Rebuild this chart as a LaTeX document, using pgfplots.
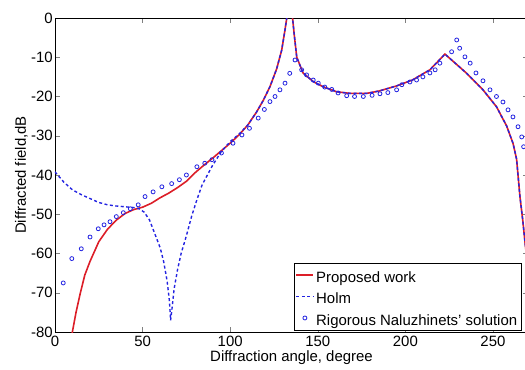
\documentclass[border=0pt]{standalone}
\usepackage{pgfplots}
\pgfplotsset{compat=1.18}
\usepackage{fontspec}
\setmainfont{Liberation Sans}
\definecolor{pred}{RGB}{220,30,40}
\definecolor{pblue}{RGB}{35,35,225}
\newcommand{\lstrut}{\rule[-7bp]{0pt}{23bp}}
\begin{document}
\begin{tikzpicture}
\begin{axis}[
  width=473bp, height=314bp, scale only axis,
  xmin=0, xmax=270, ymin=-80, ymax=0,
  xtick={0,50,100,150,200,250},
  ytick={-80,-70,-60,-50,-40,-30,-20,-10,0},
  tick align=inside,
  major tick length=5bp,
  font=\fontsize{15}{18}\selectfont,
  /pgf/number format/assume math mode=true,
  ticklabel style={font=\fontsize{15}{18}\selectfont},
  xticklabel style={inner sep=2bp, yshift=-2bp},
  yticklabel style={inner sep=2bp},
  xlabel={Diffraction angle, degree},
  ylabel={Diffracted field,dB},
  xlabel style={inner sep=2bp},
  ylabel style={yshift=-2bp},
  clip=true,
  legend cell align=left,
  legend style={at={(rel axis cs:0.985,0.005)}, anchor=south east,
    font=\fontsize{15}{17}\selectfont, draw=black, fill=white,
    inner sep=1.5bp, row sep=0pt},
  legend image post style={},
]
\addplot[pred, line width=1.6pt] coordinates {
(9.5,-81) (12,-75) (14.5,-70) (17,-65.5) (20,-62) (25,-57) (30,-53.8) (35,-51.5) (40,-49.8)
(45,-48.8) (50,-48.2) (55,-47.2) (60,-45.8) (65,-44.6) (70,-43.2) (75,-41.6) (80,-39.4)
(85,-37.5) (90,-35.7) (95,-33.8) (100,-31.9) (105,-29.8) (110,-27.3) (115,-24)
(119,-20.9) (122.7,-17.5) (126.5,-13) (129.4,-8.2) (131.3,-3) (132.3,0) (133.5,4) (134.5,4)
(135.6,0) (136.5,-4) (138,-10) (141.6,-14) (147.4,-16.2) (153,-17.5) (160.8,-18.8)
(168.4,-19.2) (178,-19.2) (185,-18.6) (195,-17.3) (204,-15.8) (214,-13.2) (222.6,-9.2)
(235,-14.1) (244.3,-18.3) (252,-22.6) (257.8,-27.5) (261.5,-32) (263.5,-36) (265.4,-45.5)
(267,-51.5) (268.5,-58) (270,-64)
};
\addlegendentry{\lstrut Proposed work}
\addplot[pblue, line width=1.4pt, dashed, dash pattern=on 3pt off 2.5pt] coordinates {
(0,-39.2) (5,-41.8) (10,-43.8) (15,-45) (20,-46) (25,-47) (30,-47.6) (35,-47.9) (40,-48.1)
(45,-48.3) (48,-48.6) (51,-49.5) (54,-51.5) (57,-55) (60,-58.5) (62,-62) (64,-67)
(65.3,-72) (66,-77) (66.8,-74) (68,-69) (70,-64) (72,-60) (75,-55.5) (78,-50.5)
(81,-46.3) (84,-42.5) (87,-40) (90,-37.5) (95,-34) (100,-31.5) (105,-29.6) (110,-27.3) (115,-24)
(119,-20.9) (122.7,-17.5) (126.5,-13) (129.4,-8.2) (131.3,-3) (132.3,0) (133.5,4) (134.5,4)
(135.6,0) (136.5,-4) (138,-10) (141.6,-14) (147.4,-16.2) (153,-17.5) (160.8,-18.8)
(168.4,-19.2) (178,-19.2) (185,-18.6) (195,-17.3) (204,-15.8) (214,-13.2) (222.6,-9.2)
(235,-14.1) (244.3,-18.3) (252,-22.6) (257.8,-27.5) (261.5,-32) (263.5,-36) (265.4,-45.5)
(267,-51.5) (268.5,-58) (270,-64)
};
\addlegendentry{\lstrut Holm}
\addplot[pblue, only marks, mark=o, mark size=2pt, line width=0.8pt] coordinates {
(4.7,-67.5) (9.6,-61.3) (15,-58.8) (20,-55.8) (24.7,-53.7) (28,-52.7) (31.4,-51.9)
(35,-50.6) (39,-49.6) (43,-48.6) (47.5,-47.6) (51.4,-45.5) (56,-44.3) (61,-43)
(66.6,-42.2) (71,-41.2) (75,-40) (81,-37.9) (85.5,-37) (89.6,-36.1) (95,-34.4)
(101.6,-31.9) (106.7,-29.8) (111,-28.1) (116,-25.5) (119.5,-23.3) (122.7,-21.3)
(125.6,-20) (128.4,-18.3) (131.3,-16.6) (134,-14.1) (137,-10.7) (140.8,-13.2)
(143.6,-14.5) (147.4,-15.8) (150.3,-16.6) (154,-17.6) (158,-18.2) (161.6,-19.1)
(166.5,-19.8) (171,-20) (176,-20) (181,-19.7) (185.5,-19.3) (190,-19) (195,-18.3)
(198,-17) (202.6,-16.3) (206.4,-15.8) (210,-15) (214,-14) (217,-13.2) (219.7,-11.5)
(226.4,-8.6) (229.3,-5.6) (231,-7.7) (234,-9.9) (237,-11.5) (240.3,-14) (244.3,-16)
(248.3,-18.3) (252,-20) (255.7,-21.4) (258.6,-23.4) (261.4,-25.2) (264.3,-27.7)
(266.4,-30.3) (267.5,-32.8)
};
\addlegendentry{\lstrut Rigorous Naluzhinets' solution}
\end{axis}
\pgfresetboundingbox
\path[use as bounding box] ([xshift=-55bp,yshift=-38bp]current axis.south west) rectangle ([xshift=470bp,yshift=332bp]current axis.south west);
\end{tikzpicture}
\end{document}
